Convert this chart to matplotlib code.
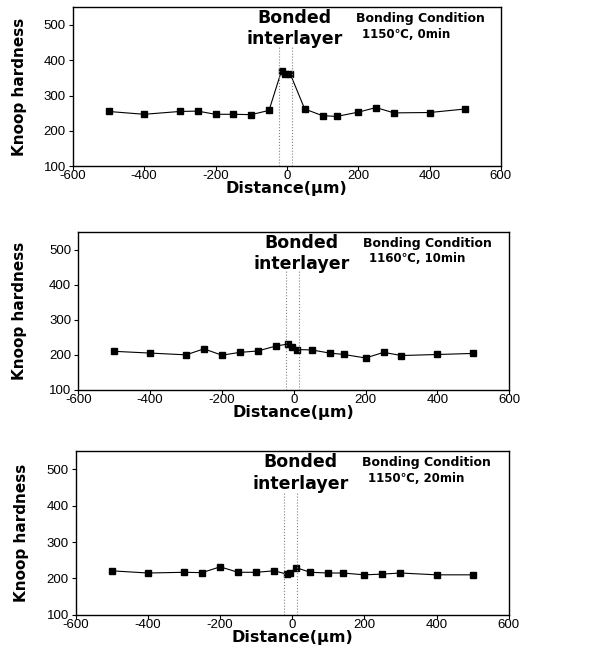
import matplotlib
matplotlib.use("Agg")
import matplotlib.pyplot as plt

plt.rcParams['font.family'] = ['Liberation Sans', 'DejaVu Sans']
plt.rcParams['axes.unicode_minus'] = False

# 数据：距离 (um) 与努氏硬度
dist = [-500, -400, -300, -250, -200, -150, -100, -50, -15, -5, 10, 50, 100, 140, 200, 250, 300, 400, 500]
hard_0min = [255, 247, 255, 256, 247, 247, 246, 258, 370, 362, 360, 262, 243, 241, 253, 266, 251, 252, 262]
hard_10min = [210, 205, 200, 217, 199, 207, 211, 225, 231, 221, 215, 214, 205, 201, 191, 207, 198, 201, 204]
hard_20min = [221, 215, 217, 216, 232, 217, 217, 221, 212, 215, 230, 217, 215, 215, 210, 212, 215, 210, 210]

conditions = ["1150\u2103, 0min", "1160\u2103, 10min", "1150\u2103, 20min"]
series = [hard_0min, hard_10min, hard_20min]
interlayer = [-22, 14]

# 每个子图的位置 (left, bottom, width, height) 和 y 轴标签的横向位置
positions = [
    [0.122, 0.745, 0.717, 0.244],
    [0.131, 0.402, 0.722, 0.242],
    [0.127, 0.057, 0.725, 0.251],
]
ylabel_x = [-0.108, -0.119, -0.109]

fig = plt.figure(figsize=(5.97, 6.52), dpi=100)
heavy = ['DejaVu Sans']

for pos, hard, cond, lx in zip(positions, series, conditions, ylabel_x):
    ax = fig.add_axes(pos)
    ax.plot(dist, hard, color='black', lw=0.8, marker='s', ms=4)
    for xv in interlayer:
        ax.plot([xv, xv], [100, 438], color='gray', lw=0.8, ls=':')
    ax.set_xlim(-600, 600)
    ax.set_ylim(100, 550)
    ax.set_xticks([-600, -400, -200, 0, 200, 400, 600])
    ax.set_yticks([100, 200, 300, 400, 500])
    ax.tick_params(direction='out', length=3, width=0.8, labelsize=9.5)
    ax.tick_params(axis='x', pad=0)
    ax.tick_params(axis='y', pad=2)
    for s in ax.spines.values():
        s.set_linewidth(1.0)
    ax.set_ylabel("Knoop hardness", fontsize=11, fontweight='bold', family=heavy)
    ax.yaxis.set_label_coords(lx, 0.5)
    ax.set_xlabel("Distance(\u03bcm)", fontsize=11.5, fontweight='bold', family=heavy, labelpad=-1)
    ax.text(22, 520, "Bonded", ha='center', va='center', fontsize=12.5, fontweight='bold', family=heavy)
    ax.text(22, 460, "interlayer", ha='center', va='center', fontsize=12.5, fontweight='bold', family=heavy)
    ax.text(194, 518, "Bonding Condition", ha='left', va='center', fontsize=9, fontweight='bold', family=heavy)
    ax.text(210, 474, cond, ha='left', va='center', fontsize=8.5, fontweight='bold', family=heavy)

fig.savefig("out.png", dpi=100)
